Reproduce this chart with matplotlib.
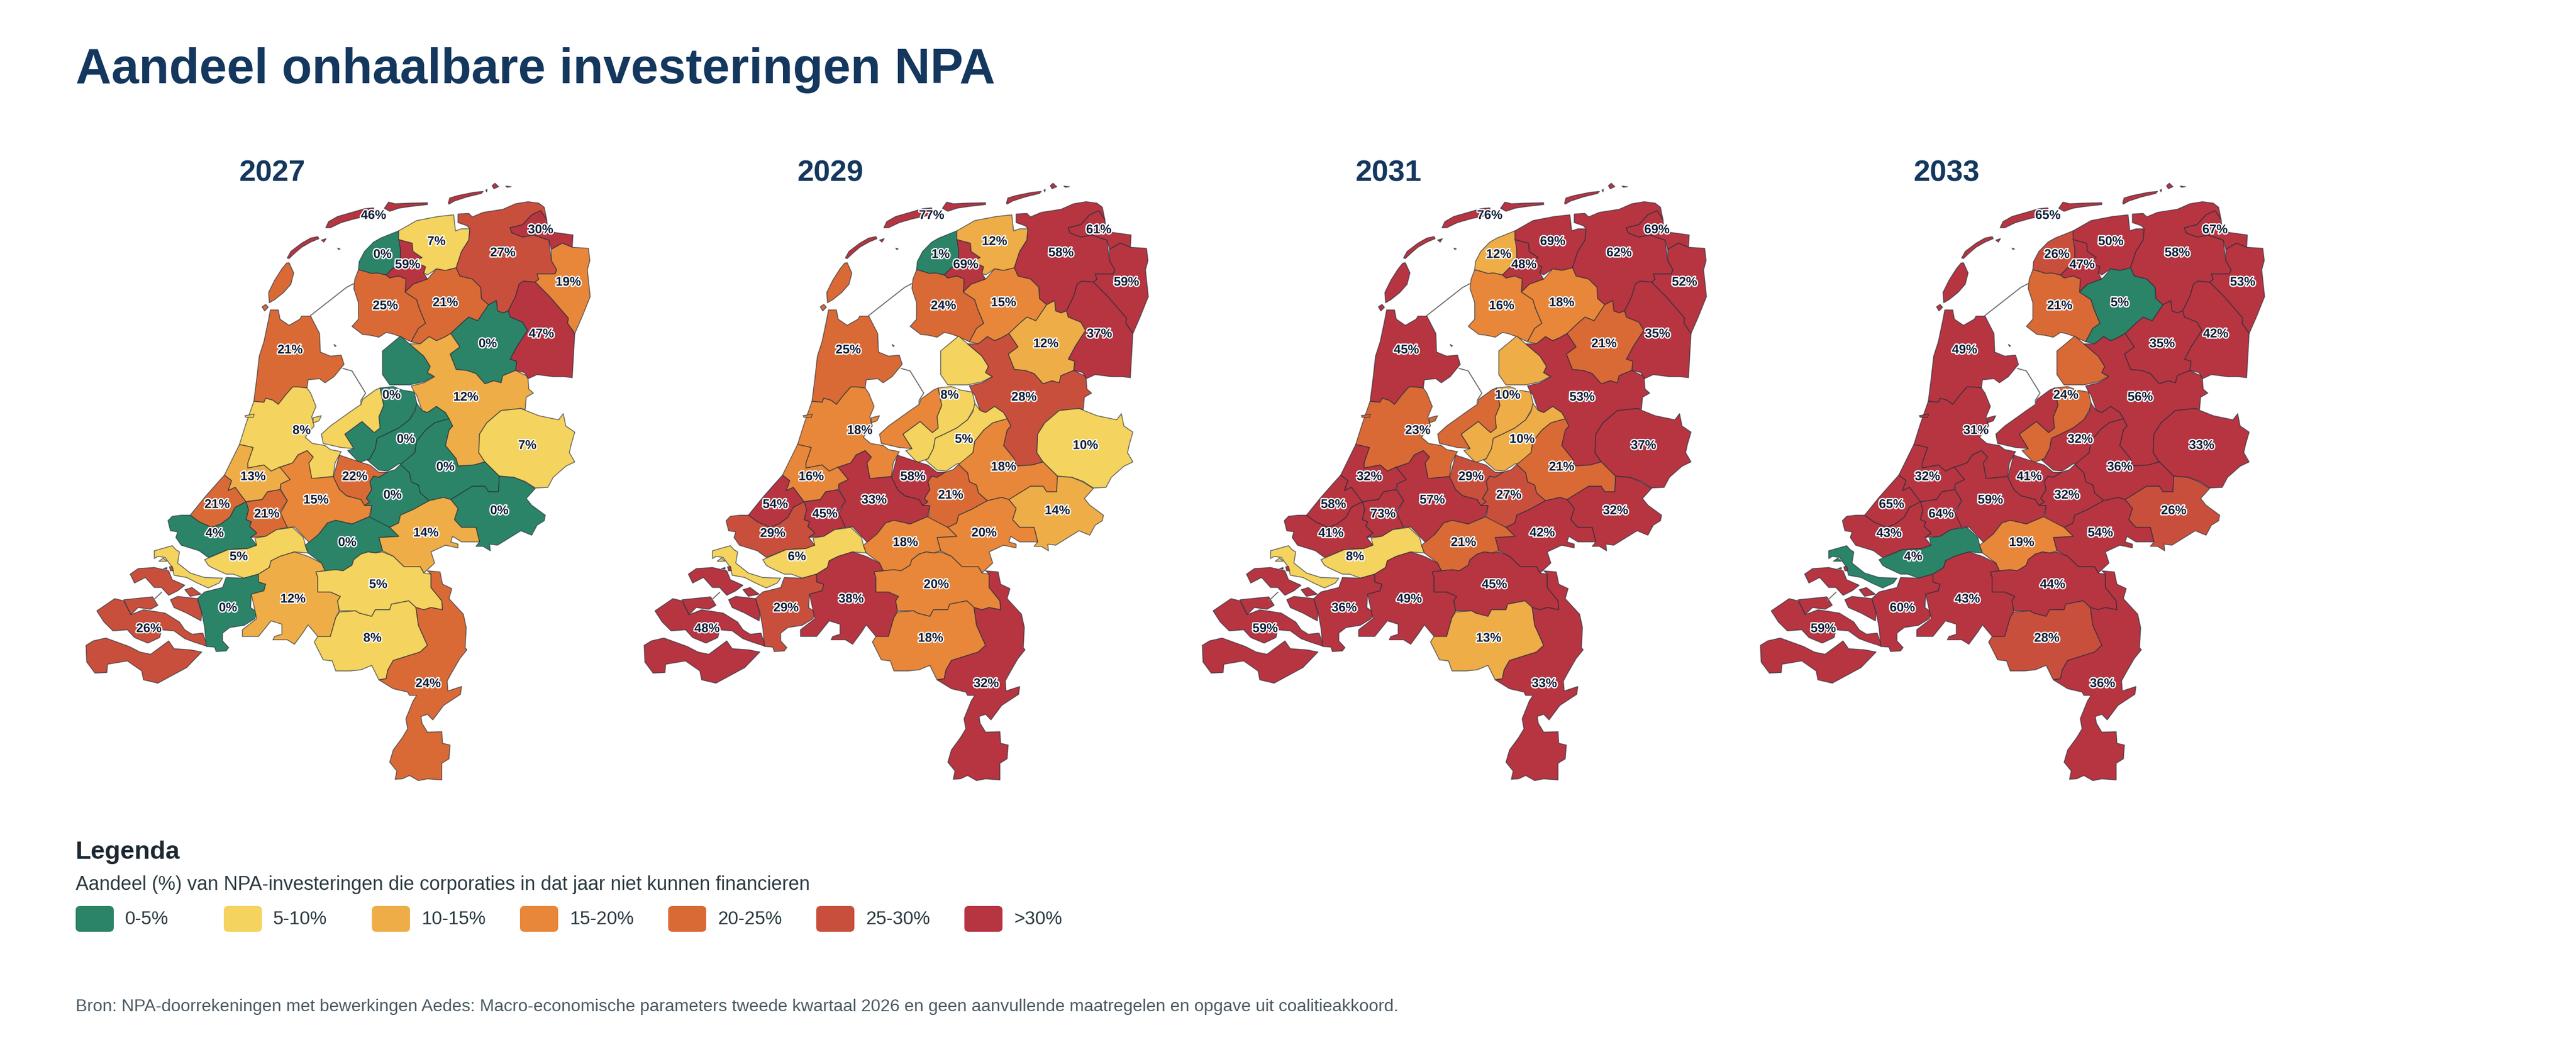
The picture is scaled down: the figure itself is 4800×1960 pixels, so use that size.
import matplotlib
matplotlib.use("Agg")
import matplotlib.pyplot as plt
import matplotlib.patheffects as pe
from matplotlib.patches import Polygon, FancyBboxPatch

plt.rcParams["font.family"] = ["Liberation Sans", "DejaVu Sans"]

# map outlines were traced in two frames (north half / south half of the country)
def N(pts):
    return [(x / 1.4933, 300 + y / 2.6133) for x, y in pts]

def S(pts):
    return [(x / 1.4933, 850 + y / 2.4123) for x, y in pts]

YEARS = ["2027", "2029", "2031", "2033"]

REGIONS = ["Wadden", "NW Friesland", "Leeuwarden", "NO Friesland", "Groningen", "Eemsdelta",
           "Oost-Groningen", "ZW Friesland", "ZO Friesland", "Drenthe Oost", "Drenthe West",
           "Noord-Holland Noord", "Flevoland", "Zwolle", "Twente", "Noord-Holland Zuid",
           "Veluwe", "Stedendriehoek", "Achterhoek", "Utrecht", "Foodvalley", "Rijnland",
           "Midden-Holland", "Haaglanden", "Drechtsteden Noord", "Rijnmond", "Arnhem-Nijmegen",
           "Hoeksche Waard", "Rivierenland", "Zeeland", "West-Brabant", "Midden-Brabant",
           "NO-Brabant", "ZO-Brabant", "Limburg"]

# aandeel (%), same order as REGIONS
V2027 = [46, 0, 59, 7, 27, 30.4, 19, 24.8, 21, 47, 0, 21, 0, 12, 7, 8, 0, 0, 0, 22, 0, 13, 15.2,
         21, 21, 4, 14, 5.2, 0, 26, 0, 12, 5.2, 8, 24]
V2029 = [77, 1, 69, 12, 58, 61, 59, 24, 15.2, 37, 12, 24.6, 8, 28, 9.6, 18, 5.2, 18, 14, 58, 21,
         16, 33, 54, 45, 29, 19.8, 6, 18, 48, 29, 38, 19.6, 18, 32]
V2031 = [76, 12, 48, 69, 62, 69, 52, 16, 18, 35, 21, 45, 10.2, 53, 37, 23, 10.2, 21, 32, 29, 27,
         32, 57, 58, 73, 41, 42, 8, 21, 59, 36, 49, 45, 13, 33]
V2033 = [65, 26, 47, 50, 58, 67, 53, 21, 4.9, 42, 35, 49, 24, 56, 33, 31, 32, 36, 26, 41, 32,
         32, 59, 65, 64, 43, 54, 4, 19, 59, 60, 43, 44, 28, 36]
VALUES = [V2027, V2029, V2031, V2033]

OUTLINES = {
    "Wadden": [
        N([(757,325),(765,295),(790,270),(830,250),(865,232),(890,228),(893,255),(870,270),(840,280),(800,300),(770,325)]),
        N([(650,472),(660,440),(690,400),(715,375),(735,368),(738,378),(715,395),(690,420),(670,450),(655,475)]),
        N([(745,385),(758,378),(752,395)]),
        N([(920,230),(932,200),(950,208),(990,205),(1040,203),(1040,212),(990,222),(960,230),(935,245)]),
        N([(1098,205),(1102,180),(1125,168),(1170,152),(1195,148),(1190,158),(1150,175),(1115,195),(1100,210)]),
        N([(1220,120),(1228,108),(1238,125),(1225,135)]),
        N([(1258,122),(1273,125),(1262,128)]),
        N([(1202,142),(1206,138),(1205,150)]),
        N([(790,424),(797,428),(793,431)]),
    ],
    "NW Friesland": [N([(960,340),(965,430),(965,500),(945,520),(925,555),(900,545),(885,548),(855,532),(848,530),(850,490),(865,440),(890,395),(910,375)])],
    "Leeuwarden": [N([(960,382),(998,400),(1000,440),(1025,470),(1005,490),(1035,515),(1030,545),(1040,575),(1000,600),(978,638),(980,575),(960,560),(935,570),(925,555),(945,520),(965,500),(965,430)])],
    "NO Friesland": [N([(960,340),(1010,290),(1070,270),(1113,262),(1118,340),(1135,330),(1158,330),(1155,385),(1135,440),(1120,520),(1090,533),(1065,525),(1040,555),(1030,545),(1035,515),(1005,490),(1025,470),(1000,440),(998,400),(960,382)])],
    "Groningen": [N([(1158,330),(1150,315),(1125,300),(1125,258),(1155,255),(1165,272),(1195,250),(1250,235),(1285,208),(1320,198),(1350,205),(1365,225),(1372,285),(1355,242),(1330,262),(1305,310),(1270,325),(1275,350),(1305,370),(1335,360),(1378,385),(1385,485),(1400,530),(1395,550),(1345,550),(1350,575),(1340,590),(1307,585),(1295,600),(1285,660),(1265,730),(1250,740),(1235,730),(1232,680),(1210,700),(1190,670),(1188,615),(1165,575),(1130,560),(1120,520),(1135,440),(1155,385)])],
    "Eemsdelta": [N([(1355,242),(1372,285),(1375,335),(1395,348),(1445,360),(1443,420),(1415,400),(1385,430),(1378,385),(1335,360),(1305,370),(1275,350),(1270,325),(1305,310),(1330,262)])],
    "Oost-Groningen": [N([(1385,430),(1415,400),(1443,420),(1488,425),(1492,485),(1485,530),(1493,660),(1470,760),(1450,840),(1430,790),(1432,765),(1380,660),(1340,590),(1350,575),(1345,550),(1395,550),(1400,530),(1385,485)])],
    "ZW Friesland": [N([(848,530),(855,532),(885,548),(900,545),(925,555),(935,570),(960,560),(980,575),(978,638),(1010,675),(1018,720),(1030,770),(1035,790),(1015,815),(995,880),(960,852),(940,840),(925,835),(905,858),(880,848),(860,845),(830,805),(848,770),(848,690),(835,620),(838,575)])],
    "ZO Friesland": [N([(978,638),(1000,600),(1040,575),(1065,525),(1090,533),(1120,520),(1130,560),(1165,575),(1188,615),(1190,670),(1210,700),(1180,778),(1155,760),(1135,790),(1105,840),(1085,860),(1065,875),(1045,855),(1020,890),(995,880),(1015,815),(1035,790),(1030,770),(1018,720),(1010,675)])],
    "Drenthe Oost": [N([(1307,585),(1340,590),(1380,660),(1432,765),(1430,790),(1450,840),(1443,1055),(1420,1050),(1390,1050),(1345,1040),(1320,1060),(1310,1030),(1285,1020),(1288,975),(1270,965),(1290,900),(1318,825),(1305,785),(1270,760),(1265,730),(1285,660),(1295,600)])],
    "Drenthe West": [N([(1210,700),(1232,680),(1235,730),(1250,740),(1265,730),(1270,760),(1305,785),(1318,825),(1290,900),(1270,965),(1288,975),(1285,1020),(1250,1045),(1245,1080),(1225,1070),(1200,1085),(1175,1035),(1150,1020),(1120,1015),(1103,940),(1130,905),(1105,840),(1135,790),(1155,760),(1180,778)])],
    "Noord-Holland Noord": [
        N([(603,725),(625,725),(630,770),(655,800),(685,770),(690,755),(715,755),(740,840),(742,930),(770,950),(800,945),(808,990),(780,1050),(755,1080),(740,1060),(708,1065),(705,1105),(680,1100),(665,1100),(645,1140),(625,1185),(610,1165),(590,1155),(585,1175),(557,1170),(565,1060),(572,950),(585,880),(597,780)]),
        N([(655,495),(668,545),(660,600),(640,640),(615,675),(600,690),(598,640),(615,580),(635,525),(648,497)]),
        N([(580,710),(590,698),(597,712),(587,730)]),
        N([(780,893),(786,900),(783,903)]),
    ],
    "Flevoland": [
        N([(965,852),(990,890),(1030,950),(1048,1000),(1040,1030),(1058,1050),(1030,1075),(990,1090),(935,1090),(915,1040),(915,925)]),
        N([(908,1105),(945,1098),(970,1115),(1003,1125),(1012,1190),(990,1260),(960,1300),(925,1330),(900,1350),(895,1400),(880,1450),(850,1468),(818,1410),(835,1400),(810,1330),(858,1268),(892,1322),(908,1300),(905,1245),(918,1190)]),
    ],
    "Zwolle": [N([(990,890),(1020,890),(1045,855),(1065,875),(1085,860),(1105,840),(1130,905),(1103,940),(1120,1015),(1150,1020),(1175,1035),(1200,1085),(1225,1070),(1245,1080),(1250,1045),(1285,1020),(1315,1045),(1320,1060),(1322,1110),(1335,1130),(1315,1150),(1312,1210),(1300,1205),(1245,1215),(1205,1275),(1185,1330),(1183,1420),(1200,1465),(1170,1480),(1125,1485),(1120,1450),(1090,1385),(1100,1310),(1110,1290),(1100,1255),(1090,1225),(1065,1195),(1040,1225),(1025,1215),(1010,1140),(1003,1125),(995,1095),(1030,1080),(1060,1050),(1040,1030),(1048,1000),(1030,950)])],
    "Twente": [N([(1245,1215),(1300,1205),(1350,1240),(1405,1260),(1418,1230),(1425,1290),(1450,1320),(1440,1380),(1435,1420),(1450,1465),(1425,1486),(1390,1540),(1375,1589),(1340,1592),(1312,1560),(1280,1540),(1240,1534),(1200,1465),(1183,1420),(1185,1330),(1205,1275)])],
    "Noord-Holland Zuid": [
        N([(665,1100),(680,1100),(705,1105),(715,1130),(730,1195),(718,1245),(725,1290),(715,1310),(700,1345),(720,1375),(755,1385),(770,1405),(800,1415),(783,1470),(778,1535),(718,1548),(710,1470),(722,1440),(705,1410),(680,1430),(665,1470),(630,1490),(605,1510),(585,1480),(540,1495),(540,1470),(555,1395),(517,1380),(535,1280),(545,1230),(557,1170),(585,1175),(590,1155),(610,1165),(625,1185),(645,1140)]),
        N([(895,1115),(908,1105),(918,1190),(905,1245),(908,1300),(892,1322),(858,1268),(810,1330),(835,1400),(800,1395),(750,1375),(745,1330),(770,1290),(830,1215),(855,1185),(860,1160)]),
        N([(722,1250),(745,1240),(738,1265),(722,1275)]),
        N([(532,1240),(558,1232),(555,1248),(535,1248)]),
    ],
    "Veluwe": [N([(1010,1180),(1025,1215),(1040,1225),(1065,1195),(1090,1225),(1100,1255),(1060,1275),(1035,1310),(1010,1365),(1005,1420),(975,1470),(960,1475),(930,1510),(905,1505),(872,1455),(880,1450),(895,1400),(900,1350),(925,1330),(960,1300),(990,1260),(1005,1220)])],
    "Stedendriehoek": [N([(1100,1255),(1110,1290),(1100,1310),(1090,1385),(1120,1450),(1125,1485),(1170,1480),(1200,1465)])
        + S([(1240,90),(1238,160),(1210,160),(1200,135),(1165,135),(1140,160),(1105,195),(1085,185),(1045,200),(1020,165),(1015,130),(995,115),(990,75),(965,37)])
        + N([(1005,1420),(1010,1365),(1035,1310),(1060,1275)])],
    "Achterhoek": [S([(1240,90),(1280,95),(1310,115),(1340,145),(1315,190),(1330,220),(1368,265),(1365,290),(1345,310),(1330,355),(1300,335),(1265,370),(1235,400),(1213,395),(1215,425),(1195,405),(1175,405),(1185,385),(1175,320),(1135,320),(1115,285),(1125,235),(1105,195),(1140,160),(1165,135),(1200,135),(1210,160),(1238,160)])],
    "Utrecht": [S([(795,-5),(845,22),(880,40),(905,72),(928,72),(905,95),(890,90),(880,115),(885,150),(870,190),(880,205),(865,222),(855,195),(815,178),(795,150),(778,95)])],
    "Foodvalley": [S([(965,37),(990,75),(995,115),(1015,130),(1020,165),(1045,200),(1000,240),(965,265),(960,300),(935,320),(880,280),(885,222),(865,222),(880,205),(870,190),(885,150),(880,115),(890,90),(905,95),(928,72),(950,60)])],
    "Rijnland": [N([(517,1380),(555,1395),(540,1470),(540,1495),(585,1480),(605,1510),(630,1490)])
        + S([(658,105),(632,125),(630,150),(595,160),(580,195),(550,200),(535,205),(505,140),(485,155),(495,110),(475,85)])],
    "Midden-Holland": [S([(630,50),(665,30),(680,-5),(705,-25),(722,5),(710,30),(718,100),(778,92),(795,150),(815,178),(855,195),(865,222),(885,222),(878,272),(830,305),(785,288),(762,300),(738,350),(715,395),(695,360),(670,318),(650,320),(630,260),(650,200),(632,150),(632,125),(658,105)])],
    "Haaglanden": [S([(475,85),(495,110),(485,155),(505,140),(535,205),(505,230),(490,275),(465,305),(440,320),(405,295),(380,265),(420,185),(450,130)])],
    "Drechtsteden Noord": [S([(535,205),(580,195),(595,160),(630,150),(650,200),(630,250),(650,320),(620,330),(590,360),(548,365),(565,345),(545,315),(550,295),(535,285),(542,240)])],
    "Rijnmond": [S([(380,265),(405,295),(440,320),(465,305),(490,275),(505,230),(535,205),(542,240),(535,285),(550,295),(545,315),(565,345),(548,365),(565,400),(540,415),(485,420),(430,455),(405,425),(355,400),(340,365),(345,340),(325,335),(318,290),(330,270),(355,265)])],
    "Arnhem-Nijmegen": [S([(1045,200),(1085,185),(1105,195),(1125,235),(1115,285),(1135,320),(1175,320),(1185,385),(1135,385),(1110,360),(1105,385),(1125,395),(1125,412),(1090,400),(1050,430),(1060,480),(1030,525),(1020,497),(975,497),(945,450),(915,425),(905,365),(960,360),(935,320),(960,300),(965,265),(1000,240)])],
    "Hoeksche Waard": [
        S([(420,465),(485,420),(540,415),(565,400),(560,368),(590,360),(620,330),(665,320),(695,365),(700,400),(708,435),(670,430),(630,450),(605,470),(600,500),(570,530),(530,548),(500,530),(480,530),(440,500),(430,490)]),
        S([(280,425),(330,402),(340,420),(350,430),(345,480),(380,525),(420,545),(470,548),(460,570),(430,592),(400,570),(370,545),(335,535),(330,500),(310,455),(290,450),(280,460)]),
        S([(293,472),(305,458),(315,472)]),
    ],
    "Rivierenland": [S([(785,288),(830,305),(878,272),(935,320),(960,360),(905,365),(915,425),(895,435),(875,430),(855,440),(835,465),(830,490),(805,515),(785,510),(755,515),(745,480),(708,435),(700,400),(738,350),(762,300)])],
    "Zeeland": [
        S([(90,850),(110,830),(145,817),(210,855),(240,880),(270,890),(320,830),(335,865),(380,870),(412,880),(370,950),(330,985),(290,1020),(250,1005),(245,965),(205,920),(150,935),(148,972),(115,975),(92,925)]),
        S([(120,695),(170,640),(195,650),(215,712),(250,690),(310,705),(350,745),(365,780),(385,800),(415,795),(428,855),(390,835),(365,820),(335,785),(300,780),(295,815),(262,840),(225,815),(205,780),(165,785),(140,745)]),
        S([(195,645),(275,632),(290,670),(270,688),(235,680),(215,712)]),
        S([(325,645),(345,630),(400,640),(412,705),(410,740),(370,705),(335,680)]),
        S([(213,530),(235,505),(280,500),(320,515),(330,555),(365,580),(345,605),(320,625),(300,590),(280,590),(255,545),(225,570)]),
        S([(365,600),(385,590),(410,620),(380,630)]),
        S([(322,497),(330,495),(333,515),(325,515)]),
        S([(305,505),(315,500),(315,508)]),
    ],
    "West-Brabant": [S([(570,530),(570,565),(590,575),(585,605),(550,620),(548,680),(565,700),(560,730),(530,760),(490,770),(470,795),(470,830),(487,860),(480,875),(452,878),(448,858),(425,855),(420,770),(412,700),(400,640),(420,610),(470,590),(480,545),(530,548)])],
    "Midden-Brabant": [S([(570,530),(600,500),(605,470),(630,450),(670,430),(708,450),(745,480),(755,515),(730,520),(735,545),(735,610),(770,610),(798,630),(790,650),(795,695),(785,725),(770,810),(735,810),(708,758),(695,790),(670,845),(650,825),(610,825),(615,810),(635,800),(635,755),(605,740),(570,810),(525,810),(525,780),(565,730),(550,620),(585,605),(590,575),(570,565)])],
    "NO-Brabant": [S([(835,465),(855,440),(875,430),(895,435),(915,430),(945,450),(975,497),(1020,497),(1030,525),(1050,530),(1050,590),(1080,650),(1082,690),(1050,680),(1030,690),(1008,680),(988,650),(940,665),(935,690),(895,690),(885,720),(850,705),(840,695),(795,695),(790,650),(798,630),(770,610),(735,610),(735,545),(730,520),(755,515),(785,510),(805,515),(830,490)])],
    "ZO-Brabant": [S([(795,700),(840,695),(850,705),(885,720),(895,690),(935,690),(940,665),(988,650),(1008,680),(1015,760),(1040,850),(1020,880),(945,918),(930,960),(925,1000),(905,1005),(885,940),(855,960),(825,965),(785,965),(775,920),(750,915),(725,835),(735,810),(770,810),(785,725)])],
    "Limburg": [S([(1040,515),(1075,520),(1082,575),(1108,595),(1100,640),(1140,710),(1148,770),(1145,860),(1150,870),(1130,910),(1105,980),(1095,1010),(1097,1055),(1135,1035),(1132,1070),(1085,1120),(1055,1185),(1040,1160),(1022,1170),(1025,1200),(1040,1240),(1080,1238),(1082,1290),(1103,1298),(1100,1360),(1080,1380),(1080,1455),(1040,1450),(1015,1458),(990,1435),(970,1450),(950,1452),(955,1415),(935,1375),(945,1320),(970,1265),(985,1225),(980,1180),(1000,1100),(1010,1075),(990,1075),(985,1060),(945,1045),(905,1005),(925,1000),(930,960),(945,918),(1020,880),(1040,850),(1015,760),(1008,680),(1030,690),(1050,680),(1082,690),(1080,650),(1050,590),(1050,530)])],
}

LABEL_XY = dict(zip(REGIONS,
    N([(890,265),(915,455),(985,505),(1065,392),(1250,447),(1355,335),(1432,590),(923,705),(1090,690),
       (1357,842),(1208,890),(658,920),(940,1140),(1147,1150),(1318,1385),(690,1312),(980,1355),(1090,1490)])
    + S([(1240,245),(838,92),(943,175),(555,92),(730,197),(455,217),(593,260),(448,347),(1036,345),(515,452),
         (817,388),(265,775),(485,682),(666,642),(903,577),(887,818),(1042,1022)])))

DIKES = [N([(715,752),(815,615),(835,597)]),
         N([(805,1010),(830,1022),(868,1130),(855,1165),(855,1185)]),
         S([(300,612),(275,650)])]

LEGEND_LABELS = ["0-5%", "5-10%", "10-15%", "15-20%", "20-25%", "25-30%", ">30%"]
LEGEND_COLORS = ["#2C8468", "#F4D35E", "#EEAD47", "#E8873A", "#D96A36", "#C94F3D", "#B63541"]
CLASS_EDGES = [5, 10, 15, 20, 25, 30]

def color_for(v):
    for edge, c in zip(CLASS_EDGES, LEGEND_COLORS):
        if v < edge:
            return c
    return LEGEND_COLORS[-1]

W, H = 4800, 1960
fig = plt.figure(figsize=(W / 100, H / 100), dpi=100, facecolor="white")

# page layer in pixel coordinates for title / legend
page = fig.add_axes([0, 0, 1, 1])
page.set_xlim(0, W); page.set_ylim(H, 0); page.axis("off")

page.text(141, 131, "Aandeel onhaalbare investeringen NPA", fontsize=66.3, fontweight="bold",
          color="#14375E", va="center", ha="left")

page.text(141, 1600, "Legenda", fontsize=34, fontweight="bold", color="#1C2730", va="baseline")
page.text(141, 1658, "Aandeel (%) van NPA-investeringen die corporaties in dat jaar niet kunnen financieren",
          fontsize=25.9, color="#2B3A42", va="baseline")
for i, (lab, col) in enumerate(zip(LEGEND_LABELS, LEGEND_COLORS)):
    x0 = 141 + i * 276
    page.add_patch(FancyBboxPatch((x0 + 8, 1696), 71 - 16, 48 - 16,
                                  boxstyle="round,pad=8,rounding_size=8",
                                  facecolor=col, edgecolor="none"))
    page.text(x0 + 92, 1712, lab, fontsize=25, color="#2B3A42", va="center", ha="left")

page.text(141, 1884, "Bron: NPA-doorrekeningen met bewerkingen Aedes: Macro-economische parameters "
          "tweede kwartaal 2026 en geen aanvullende maatregelen en opgave uit coalitieakkoord.",
          fontsize=23.1, color="#4A5A62", va="baseline")

# thin translucent outline, so shared borders come out darker than the coast
edge = (0.13, 0.17, 0.22, 0.65)
for p, (year, vals) in enumerate(zip(YEARS, VALUES)):
    left = 100 + p * 1040
    ax = fig.add_axes([left / W, (H - 1500) / H, 1040 / W, 1200 / H])
    ax.set_xlim(0, 1040); ax.set_ylim(1500, 300); ax.axis("off")
    ax.patch.set_alpha(0)
    for name, v in zip(REGIONS, vals):
        for ring in OUTLINES[name]:
            ax.add_patch(Polygon(ring, closed=True, facecolor=color_for(v), edgecolor=edge,
                                 linewidth=1.2, joinstyle="round"))
    for d in DIKES:
        ax.plot([q[0] for q in d], [q[1] for q in d], color="#6E6E6E", lw=1.4)
    for name, v in zip(REGIONS, vals):
        x, y = LABEL_XY[name]
        ax.text(x, y, f"{v:.0f}%", fontsize=17, fontweight="bold", color="#101E36",
                ha="center", va="center", zorder=5,
                path_effects=[pe.withStroke(linewidth=3.4, foreground="white")])
    ax.text(407, 338, year, fontsize=40, fontweight="bold", color="#14375E",
            ha="center", va="baseline", clip_on=False)

fig.savefig("out.png", dpi=100, facecolor="white")
